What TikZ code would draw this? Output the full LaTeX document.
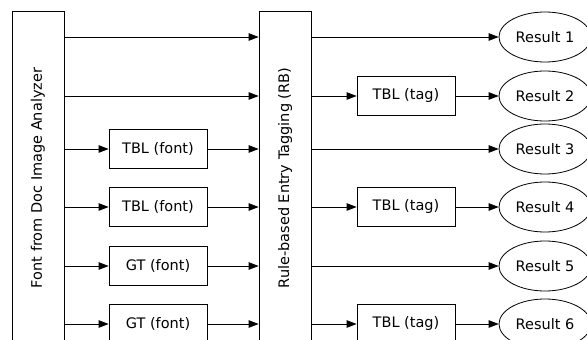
\documentclass[tikz,border=0pt]{standalone}
\usepackage{fontspec}
\setmainfont{DejaVu Sans}
\usetikzlibrary{arrows.meta,shapes.geometric}
\begin{document}
\begin{tikzpicture}[x=1pt,y=-1pt,
  font=\fontsize{14.5}{17}\selectfont,
  tall/.style={draw,line width=0.8pt,minimum width=52pt,minimum height=333pt,inner sep=0pt},
  procbox/.style={draw,line width=0.8pt,minimum width=98pt,minimum height=39pt,inner sep=0pt},
  result/.style={draw,ellipse,line width=0.8pt,minimum width=92pt,minimum height=50pt,inner sep=0pt},
  conn/.style={line width=0.8pt,-{Triangle[length=10pt,width=7.5pt]}}]
\useasboundingbox (0,0) rectangle (587,340);
\clip (0,0) rectangle (587,340);
\node[tall] (fd) at (38,178) {\rotatebox{90}{Font from Doc Image Analyzer}};
\node[tall] (rb) at (285,178) {\rotatebox{90}{Rule-based Entry Tagging (RB)}};
% rows
\def\ya{37}\def\yb{96}\def\yc{149}\def\yd{207}\def\ye{266}\def\yf{324}
\node[procbox] (f3) at (158,\yc) {TBL (font)};
\node[procbox] (f4) at (158,\yd) {TBL (font)};
\node[procbox] (f5) at (158,\ye) {GT (font)};
\node[procbox] (f6) at (158,\yf) {GT (font)};
\node[procbox] (t2) at (406,\yb) {TBL (tag)};
\node[procbox] (t4) at (406,\yd) {TBL (tag)};
\node[procbox] (t6) at (406,\yf) {TBL (tag)};
\node[result] (r1) at (545,\ya) {Result 1};
\node[result] (r2) at (545,\yb) {Result 2};
\node[result] (r3) at (545,\yc) {Result 3};
\node[result] (r4) at (545,\yd) {Result 4};
\node[result] (r5) at (545,\ye) {Result 5};
\node[result] (r6) at (545,\yf) {Result 6};
% left side
\draw[conn] (fd.east |- 0,\ya) -- (rb.west |- 0,\ya);
\draw[conn] (fd.east |- 0,\yb) -- (rb.west |- 0,\yb);
\foreach \n in {f3,f4,f5,f6}{
  \draw[conn] (fd.east |- \n.west) -- (\n.west);
  \draw[conn] (\n.east) -- (rb.west |- \n.east);
}
% right side
\draw[conn] (rb.east |- r1.west) -- (r1.west);
\draw[conn] (rb.east |- r3.west) -- (r3.west);
\draw[conn] (rb.east |- r5.west) -- (r5.west);
\foreach \t/\r in {t2/r2,t4/r4,t6/r6}{
  \draw[conn] (rb.east |- \t.west) -- (\t.west);
  \draw[conn] (\t.east) -- (\r.west);
}
\end{tikzpicture}
\end{document}
